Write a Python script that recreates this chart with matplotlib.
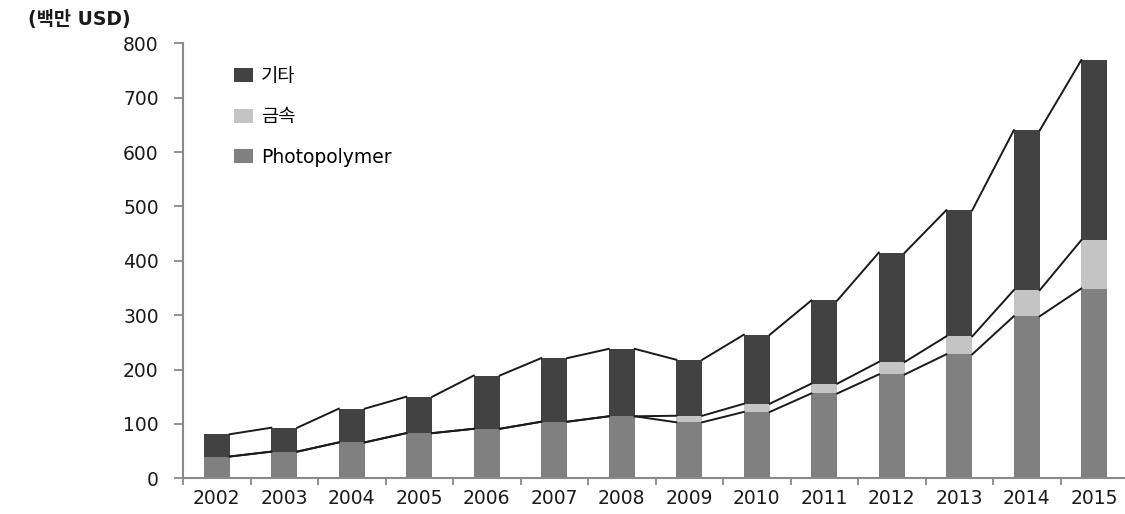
import numpy as np
import matplotlib
matplotlib.use("Agg")
import matplotlib.pyplot as plt

plt.rcParams['font.family'] = ['DejaVu Sans', 'Noto Sans CJK KR']

# data (million USD)
years = ['2002', '2003', '2004', '2005', '2006', '2007', '2008',
         '2009', '2010', '2011', '2012', '2013', '2014', '2015']
photopolymer = [40, 49, 66, 83, 91, 104, 114, 103, 122, 156, 191, 228, 298, 349]
metal = [0, 0, 0, 0, 0, 0, 0, 12, 15, 18, 23, 33, 48, 89]
total = [81, 93, 128, 150, 189, 221, 238, 218, 264, 327, 415, 493, 640, 769]
other = [t - p - m for t, p, m in zip(total, photopolymer, metal)]

c_photo = '#808080'
c_metal = '#c4c4c4'
c_other = '#424242'

fig = plt.figure(figsize=(11.25, 5.14), dpi=100)
ax = fig.add_axes([0.1627, 0.0695, 0.84, 0.8463])

x = np.arange(len(years))
w = 0.385
ph = np.array(photopolymer)
mt = np.array(metal)
ot = np.array(other)

b1 = ax.bar(x, ph, w, color=c_photo, label='Photopolymer', zorder=2)
b2 = ax.bar(x, mt, w, bottom=ph, color=c_metal, label='금속', zorder=2)
b3 = ax.bar(x, ot, w, bottom=ph + mt, color=c_other, label='기타', zorder=2)

# series lines between bars (Excel style)
for level in [ph, ph + mt, ph + mt + ot]:
    for i in range(len(x) - 1):
        ax.plot([x[i] + w / 2, x[i + 1] - w / 2], [level[i], level[i + 1]],
                color='#1a1a1a', lw=1.4, zorder=3)

ax.set_xlim(-0.5, len(years) - 0.5)
ax.set_ylim(0, 800)
ax.set_yticks(np.arange(0, 801, 100))
ax.set_xticks(x)
ax.set_xticklabels(years)
ax.set_xticks(np.arange(-0.5, len(years), 1.0), minor=True)

for s in ['top', 'right']:
    ax.spines[s].set_visible(False)
for s in ['left', 'bottom']:
    ax.spines[s].set_color('#8a8a8a')
    ax.spines[s].set_linewidth(1.5)

ax.tick_params(axis='y', direction='out', length=6.5, width=1.3, color='#8a8a8a',
               pad=11, labelsize=13.5, labelcolor='#1a1a1a')
ax.tick_params(axis='x', which='major', length=0, pad=8, labelsize=13.5,
               labelcolor='#1a1a1a')
ax.tick_params(axis='x', which='minor', direction='out', length=5, width=1.3,
               color='#8a8a8a')

ax.legend(handles=[b3, b2, b1], loc='upper left', bbox_to_anchor=(0.036, 0.985),
          frameon=False, fontsize=13.5, handlelength=1.0, handleheight=0.75,
          handletextpad=0.45, labelspacing=1.15)

fig.text(0.025, 0.962, '(백만 USD)', fontsize=13.5, fontweight='bold',
         color='#1a1a1a', va='center', ha='left')

fig.savefig('out.png', dpi=100)
